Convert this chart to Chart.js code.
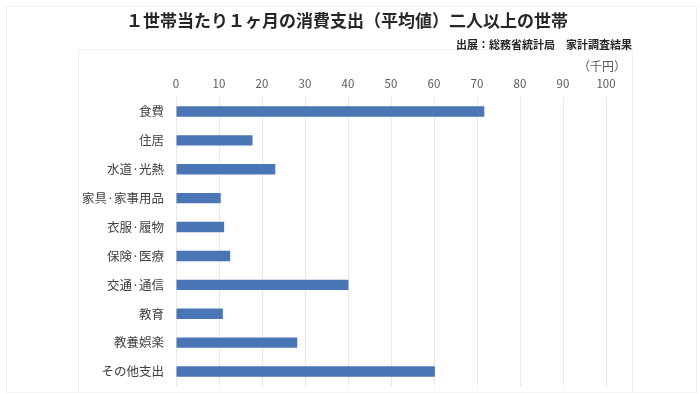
<!DOCTYPE html>
<html><head><meta charset="utf-8">
<script src="https://cdn.jsdelivr.net/npm/chart.js@4"></script>
<style>html,body{margin:0;padding:0;background:#fff}#wrap{width:700px;height:394px}</style>
</head><body><div id="wrap"><canvas id="c" width="700" height="394"></canvas></div>
<script>
const categories = ["食費","住居","水道·光熱","家具·家事用品","衣服·履物","保険·医療","交通·通信","教育","教養娯楽","その他支出"];
const values = [71.7, 17.8, 23.1, 10.4, 11.2, 12.6, 40.1, 10.9, 28.2, 60.2];
const titleText = "１世帯当たり１ヶ月の消費支出（平均値）二人以上の世帯";
const sourceText = "出展：総務省統計局　家計調査結果";
const unitText = "（千円）";
const FONT = "'Noto Sans CJK JP','Noto Sans',sans-serif";

const deco = {
  id: 'deco',
  beforeDraw(chart) {
    const ctx = chart.ctx;
    ctx.save();
    ctx.fillStyle = '#fff';
    ctx.fillRect(0, 0, chart.width, chart.height);
    ctx.strokeStyle = '#f0f0f0';
    ctx.lineWidth = 1;
    ctx.strokeRect(6.5, 6.5, 690, 386);
    ctx.strokeRect(78.5, 49.5, 554, 343);
    ctx.restore();
  },
  afterDraw(chart) {
    const ctx = chart.ctx;
    ctx.save();
    ctx.textBaseline = 'middle';
    ctx.fillStyle = '#262626';
    ctx.font = "bold 17px " + FONT;
    ctx.textAlign = 'center';
    ctx.fillText(titleText, 347, 21);
    ctx.font = "bold 11px " + FONT;
    ctx.textAlign = 'right';
    ctx.fillText(sourceText, 632, 45);
    ctx.font = "12px " + FONT;
    ctx.fillStyle = '#595959';
    ctx.fillText(unitText, 626, 66);
    ctx.restore();
  }
};

new Chart(document.getElementById('c'), {
  type: 'bar',
  data: {
    labels: categories,
    datasets: [{
      data: values,
      backgroundColor: '#4a76b5',
      borderWidth: 0,
      barPercentage: 0.36,
      categoryPercentage: 1.0
    }]
  },
  options: {
    indexAxis: 'y',
    responsive: false,
    animation: false,
    devicePixelRatio: 1,
    layout: { padding: { top: 77, left: 0, right: 94, bottom: 8 } },
    plugins: { legend: { display: false }, title: { display: false }, tooltip: { enabled: false } },
    scales: {
      x: {
        position: 'top',
        min: 0, max: 100,
        ticks: { stepSize: 10, color: '#595959', font: { family: FONT, size: 11.5 }, padding: 6 },
        grid: { color: '#e8e8e8', drawTicks: false, lineWidth: 1 },
        border: { display: false },
        afterFit(s) { s.height = 20; s.paddingLeft = 0; s.paddingRight = 0; }
      },
      y: {
        ticks: { color: '#404040', font: { family: FONT, size: 12.5 }, padding: 12 },
        grid: { display: false, drawTicks: false },
        border: { display: false },
        afterFit(s) { s.width = 176; s.paddingTop = 0; s.paddingBottom = 0; }
      }
    }
  },
  plugins: [deco]
});
</script>
</body></html>
